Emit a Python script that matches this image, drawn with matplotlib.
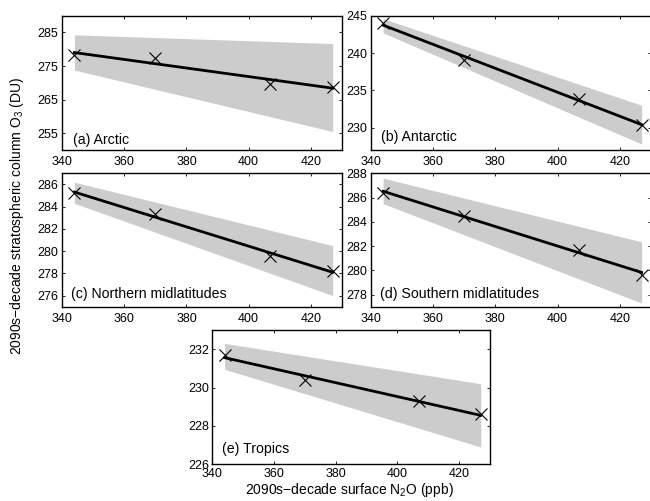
import numpy as np
import matplotlib
matplotlib.use("Agg")
import matplotlib.pyplot as plt

plt.rcParams["font.family"] = ["Liberation Sans", "DejaVu Sans"]
plt.rcParams["mathtext.fontset"] = "custom"
plt.rcParams["mathtext.rm"] = "Liberation Sans"
plt.rcParams["mathtext.it"] = "Liberation Sans:italic"
plt.rcParams["mathtext.default"] = "regular"
plt.rcParams["font.size"] = 9

# 2090s-decade surface N2O (ppb) for the four scenarios
n2o = [344, 370, 407, 427]

# 2090s-decade stratospheric column O3 (DU) per region
arctic = [278.2, 277.3, 269.8, 268.8]
antarctic = [244.0, 239.1, 233.8, 230.4]
nh_mid = [285.2, 283.3, 279.6, 278.2]
sh_mid = [286.4, 284.5, 281.7, 279.6]
tropics = [231.7, 230.4, 229.3, 228.6]

# uncertainty band edges at the lowest and highest N2O values
arctic_lo, arctic_hi = [273.8, 255.5], [284.3, 281.7]
antarctic_lo, antarctic_hi = [242.7, 227.8], [244.6, 233.0]
nh_lo, nh_hi = [284.3, 276.0], [286.2, 280.5]
sh_lo, sh_hi = [285.5, 277.3], [287.6, 282.35]
tropics_lo, tropics_hi = [230.95, 226.9], [232.3, 230.2]

labels = ["(a) Arctic", "(b) Antarctic", "(c) Northern midlatitudes",
          "(d) Southern midlatitudes", "(e) Tropics"]
x_ticks = [340, 360, 380, 400, 420]

W, H = 650, 501
fig = plt.figure(figsize=(W / 100, H / 100), dpi=100)


def add_axes(left, top, right, bottom):
    return fig.add_axes([left / W, 1 - bottom / H, (right - left) / W, (bottom - top) / H])


panels = [
    # (box px, series, band lo, band hi, ylim, yticks, label pos, xpad)
    ((62, 15.7, 342, 150), arctic, arctic_lo, arctic_hi, (250, 290),
     [255, 265, 275, 285], (0.04, 0.045), 4.5),
    ((370.7, 15.7, 651, 150), antarctic, antarctic_lo, antarctic_hi, (227, 245),
     [230, 235, 240, 245], (0.037, 0.07), 4.5),
    ((62, 173.3, 342, 306.7), nh_mid, nh_lo, nh_hi, (275, 287),
     [276, 278, 280, 282, 284, 286], (0.031, 0.063), 4.5),
    ((370.7, 173.3, 651, 306.7), sh_mid, sh_lo, sh_hi, (277, 288),
     [278, 280, 282, 284, 286, 288], (0.033, 0.067), 4.5),
    ((212.3, 330, 490, 464.3), tropics, tropics_lo, tropics_hi, (226, 233),
     [226, 228, 230, 232], (0.034, 0.082), 2.8),
]

for (box, y, lo, hi, ylim, yticks, lpos, xpad), label in zip(panels, labels):
    ax = add_axes(*box)
    xb = [min(n2o), max(n2o)]
    ax.fill_between(xb, lo, hi, color="#cccccc", linewidth=0, zorder=1)
    slope, icpt = np.polyfit(n2o, y, 1)
    xf = np.array(xb, dtype=float)
    ax.plot(xf, slope * xf + icpt, color="black", linewidth=2.0, zorder=3)
    ax.plot(n2o, y, linestyle="none", marker="x", markersize=8.5,
            markeredgewidth=0.8, color="black", zorder=4)
    ax.set_xlim(340, 430)
    ax.set_ylim(*ylim)
    ax.set_xticks(x_ticks)
    ax.set_yticks(yticks)
    ax.tick_params(direction="in", length=2.5, width=0.6, top=True, right=True,
                   labelsize=9)
    ax.tick_params(axis="x", pad=xpad)
    ax.tick_params(axis="y", pad=2.5)
    for s in ax.spines.values():
        s.set_linewidth(1.0)
    ax.text(lpos[0], lpos[1], label, transform=ax.transAxes, fontsize=10.2,
            ha="left", va="baseline")

fig.text(17 / W, 1 - 216 / H, "2090s\u2212decade stratospheric column O$_3$ (DU)",
         rotation=90, ha="center", va="center", fontsize=10)
fig.text(349 / W, 1 - 490 / H, "2090s\u2212decade surface N$_2$O (ppb)",
         ha="center", va="center", fontsize=10)

fig.savefig("out.png", dpi=100)
